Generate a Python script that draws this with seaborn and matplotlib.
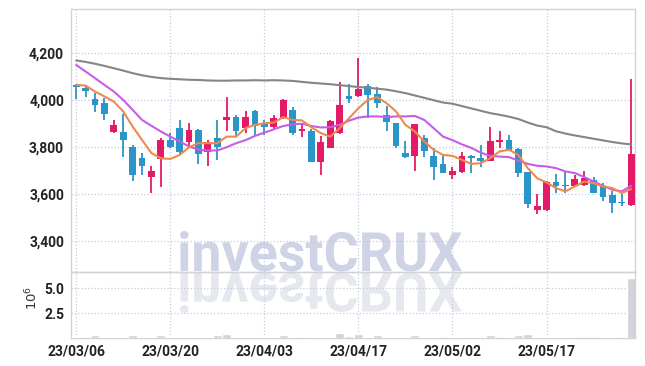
import numpy as np
import pandas as pd
import matplotlib
matplotlib.use('Agg')
import matplotlib.pyplot as plt
import seaborn as sns
from matplotlib.textpath import TextPath
from matplotlib.patches import PathPatch
from matplotlib.font_manager import FontProperties
from matplotlib.transforms import Affine2D

# trading days (KRX, 2023-03-06 .. 2023-05-31)
dates = pd.bdate_range('2023-03-06', '2023-05-31', freq='C',
                       holidays=['2023-05-01', '2023-05-05', '2023-05-29'])

opens = [4065, 4050, 4005, 3990, 3865, 3865, 3800, 3755, 3675, 3750,
         3830, 3880, 3820, 3874, 3778, 3840, 3916, 3928, 3881, 3955,
         3902, 3888, 3923, 3959, 3868, 3871, 3739, 3796, 3860, 4018,
         4016, 4061, 4027, 3938, 3905, 3775, 3763, 3838, 3763, 3729,
         3680, 3694, 3763, 3755, 3743, 3820, 3831, 3793, 3695, 3531,
         3531, 3654, 3641, 3633, 3638, 3661, 3633, 3597, 3568, 3552]
closes = [4055, 4040, 3980, 3940, 3895, 3830, 3680, 3718, 3700, 3830,
          3800, 3778, 3874, 3772, 3821, 3800, 3928, 3867, 3928, 3891,
          3885, 3923, 4001, 3862, 3877, 3739, 3823, 3912, 3980, 4007,
          4048, 4023, 3987, 3909, 3803, 3760, 3898, 3782, 3714, 3690,
          3697, 3763, 3752, 3743, 3827, 3831, 3789, 3692, 3559, 3551,
          3654, 3636, 3633, 3665, 3671, 3607, 3590, 3562, 3564, 3772]
highs = [4070, 4065, 4030, 4010, 3915, 3940, 3810, 3775, 3720, 3840,
         3860, 3915, 3902, 3876, 3831, 3915, 4015, 3938, 3956, 3958,
         3915, 3938, 4004, 3969, 3902, 3876, 3848, 3916, 4076, 4068,
         4180, 4070, 4058, 3976, 3905, 3825, 3900, 3852, 3796, 3768,
         3714, 3778, 3768, 3809, 3885, 3870, 3851, 3796, 3696, 3600,
         3656, 3687, 3697, 3682, 3699, 3672, 3647, 3612, 3612, 4090]
lows = [4005, 4015, 3950, 3915, 3860, 3760, 3655, 3682, 3605, 3630,
        3795, 3768, 3803, 3730, 3720, 3745, 3870, 3846, 3860, 3846,
        3853, 3874, 3918, 3853, 3843, 3738, 3682, 3795, 3858, 3987,
        4015, 3924, 3966, 3871, 3796, 3753, 3697, 3760, 3661, 3690,
        3665, 3690, 3692, 3715, 3742, 3796, 3782, 3675, 3541, 3515,
        3529, 3604, 3604, 3632, 3637, 3606, 3569, 3519, 3548, 3550]
volume_m = [0.15, 0.05, 0.28, 0.15, 0.15, 0.15, 0.28, 0.15, 0.15, 0.28,
            0.15, 0.15, 0.15, 0.15, 0.15, 0.28, 0.40, 0.15, 0.15, 0.15,
            0.15, 0.15, 0.28, 0.15, 0.02, 0.15, 0.15, 0.15, 0.50, 0.22,
            0.40, 0.15, 0.28, 0.15, 0.15, 0.15, 0.28, 0.15, 0.15, 0.02,
            0.15, 0.15, 0.02, 0.15, 0.28, 0.02, 0.15, 0.28, 0.40, 0.15,
            0.15, 0.15, 0.15, 0.02, 0.02, 0.02, 0.15, 0.15, 0.02, 6.00]
ma_short = [4065, 4062, 4037, 4016, 3994, 3952, 3888, 3831, 3775, 3753,
            3750, 3767, 3800, 3817, 3817, 3817, 3845, 3845, 3881, 3895,
            3902, 3905, 3928, 3916, 3914, 3885, 3860, 3845, 3881, 3923,
            3966, 4001, 4013, 3987, 3952, 3895, 3867, 3824, 3789, 3767,
            3763, 3746, 3729, 3732, 3753, 3782, 3789, 3767, 3711, 3668,
            3650, 3626, 3612, 3633, 3654, 3647, 3633, 3626, 3605, 3622]
ma_mid = [4150, 4122, 4094, 4065, 4037, 4001, 3959, 3916, 3891, 3867,
          3845, 3824, 3803, 3789, 3786, 3786, 3800, 3817, 3830, 3848,
          3862, 3876, 3890, 3897, 3900, 3890, 3884, 3885, 3895, 3913,
          3926, 3931, 3931, 3928, 3931, 3931, 3933, 3916, 3881, 3845,
          3830, 3812, 3797, 3777, 3763, 3760, 3758, 3743, 3729, 3721,
          3718, 3711, 3697, 3690, 3673, 3654, 3636, 3619, 3612, 3636]
ma_long = [4169, 4163, 4155, 4146, 4136, 4126, 4115, 4106, 4099, 4094,
           4091, 4089, 4087, 4086, 4084, 4083, 4083, 4084, 4084, 4085,
           4084, 4085, 4084, 4082, 4078, 4074, 4071, 4068, 4064, 4060,
           4056, 4053, 4049, 4045, 4038, 4030, 4020, 4010, 4000, 3990,
           3985, 3975, 3965, 3955, 3945, 3938, 3930, 3920, 3905, 3892,
           3885, 3868, 3858, 3850, 3843, 3836, 3829, 3822, 3816, 3812]

RED = '#e31a67'
BLUE = '#2b94c9'
GRID = '#c7cbde'
SPINE = '#d3d3d6'

sns.set_style('white')
plt.rcParams['font.family'] = ['Roboto', 'DejaVu Sans']

df = pd.DataFrame({'open': opens, 'close': closes, 'high': highs, 'low': lows,
                   'vol': np.array(volume_m) * 1e6,
                   'ma5': ma_short, 'ma20': ma_mid, 'ma60': ma_long})
df['i'] = np.arange(len(df))
up = df.close >= df.open
colors = np.where(up, RED, BLUE)

fig = plt.figure(figsize=(6.45, 3.66), dpi=100)
fig.patch.set_facecolor('white')
ax = fig.add_axes([71 / 645, (366 - 272) / 366, 564 / 645, 263 / 366])
axv = fig.add_axes([71 / 645, (366 - 338) / 366, 564 / 645, 66 / 366])

# candles
ax.vlines(df.i, df.low, df.high, color=colors, lw=1.3, zorder=3)
ax.bar(df.i, (df.close - df.open).abs(), bottom=df[['open', 'close']].min(axis=1),
       width=0.72, color=colors, zorder=4, linewidth=0)

sns.lineplot(data=df, x='i', y='ma60', ax=ax, color='#858585', lw=1.5, zorder=5)
sns.lineplot(data=df, x='i', y='ma20', ax=ax, color='#c95ce8', lw=1.5, zorder=5)
sns.lineplot(data=df, x='i', y='ma5', ax=ax, color='#ef8a4d', lw=1.5, zorder=5)

# volume
sns.barplot(data=df, x='i', y='vol', ax=axv, native_scale=True, color='#d2d3d9',
            saturation=1, errorbar=None, width=0.95, zorder=3)

for a in (ax, axv):
    a.set_facecolor('none')
    a.set_xlim(-0.55, 59.4)
    a.set_xticks(range(0, len(df), 10))
    a.grid(True, ls=':', color=GRID, lw=0.9)
    a.set_xlabel('')
    a.set_ylabel('')
    a.tick_params(length=0, labelsize=10, labelcolor='#222222', pad=5)
    for s in a.spines.values():
        s.set_color(SPINE)
        s.set_linewidth(1)

ax.set_ylim(3269, 4388)
ax.set_yticks([3400, 3600, 3800, 4000, 4200])
ax.set_yticklabels([f'{v:,}' for v in [3400, 3600, 3800, 4000, 4200]], fontweight='bold')
ax.set_xticklabels([])

axv.set_ylim(0, 6.63e6)
axv.set_yticks([2.5e6, 5.0e6])
axv.set_yticklabels(['2.5', '5.0'], fontweight='bold')
axv.set_xticklabels(dates[::10].strftime('%y/%m/%d'), fontweight='bold')
fig.text(32 / 645, 1 - 298 / 366, r'$10^6$', rotation=90, ha='center', va='center',
         fontsize=9.5, family='DejaVu Sans', color='#333333')

# watermark with reflection
fp = FontProperties(family=['Roboto', 'DejaVu Sans'], weight='bold')
tp = TextPath((0, 0), 'investCRUX', size=50, prop=fp)
ext = tp.get_extents()
sx = 282 / ext.width
sy = 40 / ext.y1
x0 = 180 - ext.x0 * sx
base = 366 - 271
fig.add_artist(PathPatch(tp, transform=Affine2D().scale(sx, sy).translate(x0, base),
                         facecolor='#c6cce1', edgecolor='none', alpha=0.85, zorder=-1))
fig.add_artist(PathPatch(tp, transform=Affine2D().scale(sx, -sy).translate(x0, base - 2),
                         facecolor='#e4e6ee', edgecolor='none', alpha=0.9, zorder=-1))

fig.savefig('out.png', dpi=100)
